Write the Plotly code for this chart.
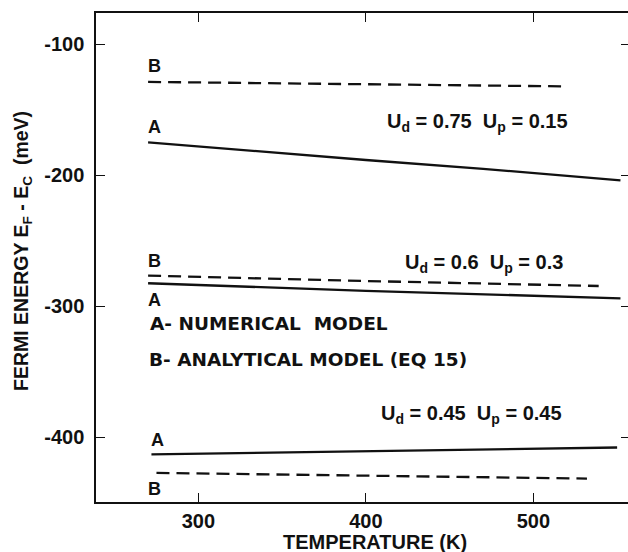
import plotly.graph_objects as go

# Fermi energy E_F - E_C (meV) versus temperature (K)
# A = numerical model (solid), B = analytical model, eq. 15 (dashed)
temp_a_075 = [270, 335, 400, 470, 552]
ef_a_075 = [-175.0, -181.8, -188.4, -195.2, -204.0]
temp_b_075 = [270, 400, 517]
ef_b_075 = [-128.8, -130.6, -132.2]

temp_a_060 = [270, 400, 552]
ef_a_060 = [-282.5, -288.3, -294.0]
temp_b_060 = [270, 400, 539]
ef_b_060 = [-276.7, -280.8, -284.6]

temp_a_045 = [272, 400, 550]
ef_a_045 = [-413.2, -410.9, -407.9]
temp_b_045 = [275, 400, 532]
ef_b_045 = [-427.3, -429.4, -431.6]

x_ticks = [300, 400, 500]
x_tick_text = ["300", "400", "500"]
y_ticks = [-100, -200, -300, -400]
y_tick_text = ["-100", "-200", "-300", "-400"]

FONT = "Liberation Sans, Arial, Helvetica, sans-serif"
WIDE = "DejaVu Sans, Verdana, sans-serif"
INK = "#111111"

fig = go.Figure()

solid = dict(color=INK, width=2.3)
dashed = dict(color=INK, width=2.3, dash="13px,7px")

for tx, ty in [(temp_a_075, ef_a_075), (temp_a_060, ef_a_060), (temp_a_045, ef_a_045)]:
    fig.add_trace(go.Scatter(x=tx, y=ty, mode="lines", line=solid,
                             showlegend=False, hoverinfo="skip"))
for tx, ty in [(temp_b_075, ef_b_075), (temp_b_060, ef_b_060), (temp_b_045, ef_b_045)]:
    fig.add_trace(go.Scatter(x=tx, y=ty, mode="lines", line=dashed,
                             showlegend=False, hoverinfo="skip"))
# empty trace so the right-hand tick axis is drawn
fig.add_trace(go.Scatter(x=[], y=[], yaxis="y2", showlegend=False, hoverinfo="skip"))


def label(x, y, text, size=19, xanchor="center", family=FONT):
    fig.add_annotation(x=x, y=y, xref="x", yref="y", text=text, showarrow=False,
                       xanchor=xanchor, yanchor="middle",
                       font=dict(family=family, size=size, color=INK, weight="bold"))


# curve letters
label(273.6, -116.8, "B", 18)
label(273.9, -163.4, "A", 18)
label(273.6, -265.7, "B", 18)
label(273.6, -295.5, "A", 18)
label(275.6, -401.9, "A", 18)
label(273.6, -439.2, "B", 18)

# parameter sets
label(411.5, -160.0, "U<sub>d</sub> = 0.75  U<sub>p</sub> = 0.15", 20, "left")
label(422.2, -267.5, "U<sub>d</sub> = 0.6  U<sub>p</sub> = 0.3", 20, "left")
label(407.9, -382.5, "U<sub>d</sub> = 0.45  U<sub>p</sub> = 0.45", 20, "left")

# key
label(270.0, -313.3, "A- NUMERICAL  MODEL", 18.5, "left", WIDE)
label(269.4, -340.4, "B- ANALYTICAL MODEL (EQ 15)", 18.5, "left", WIDE)

# axis titles
fig.add_annotation(x=375, y=542, xref="paper", yref="paper", text="TEMPERATURE (K)",
                   showarrow=False, xanchor="center", yanchor="middle",
                   font=dict(family=FONT, size=20, color=INK, weight="bold"))
fig.add_annotation(x=23, y=251, xref="paper", yref="paper",
                   text="FERMI ENERGY E<sub>F</sub> - E<sub>C</sub>  (meV)",
                   textangle=-90, showarrow=False, xanchor="center", yanchor="middle",
                   font=dict(family=FONT, size=19.5, color=INK, weight="bold"))

W, H = 628, 552
L, R, T, B = 96, 0, 13, 50
# convert pixel positions of the axis titles to paper coordinates
for ann in fig.layout.annotations[-2:]:
    ann.x = (ann.x - L) / (W - L - R)
    ann.y = 1 - (ann.y - T) / (H - T - B)

tick_font = dict(family=FONT, size=20, color=INK, weight="bold")

fig.update_layout(
    width=W, height=H,
    margin=dict(l=L, r=R, t=T, b=B, pad=0),
    paper_bgcolor="white", plot_bgcolor="white",
    xaxis=dict(range=[238.9, 556.5], tickvals=x_ticks, ticktext=x_tick_text,
               showline=True, linecolor=INK, linewidth=1.5, mirror="ticks",
               ticks="inside", ticklen=9, tickwidth=1.3, tickcolor=INK,
               showgrid=False, zeroline=False, tickfont=tick_font,
               ticklabelstandoff=0),
    yaxis=dict(range=[-449.5, -76.2], tickvals=y_ticks, ticktext=y_tick_text,
               showline=True, linecolor=INK, linewidth=1.5,
               ticks="inside", ticklen=9, tickwidth=1.3, tickcolor=INK,
               showgrid=False, zeroline=False, tickfont=tick_font,
               ticklabelstandoff=6),
    yaxis2=dict(range=[-449.5, -76.2], tickvals=y_ticks, overlaying="y", side="right",
                showline=False, ticks="inside", ticklen=7, tickwidth=1.3, tickcolor=INK,
                showticklabels=False, showgrid=False, zeroline=False),
)

fig.write_html("out.html")
